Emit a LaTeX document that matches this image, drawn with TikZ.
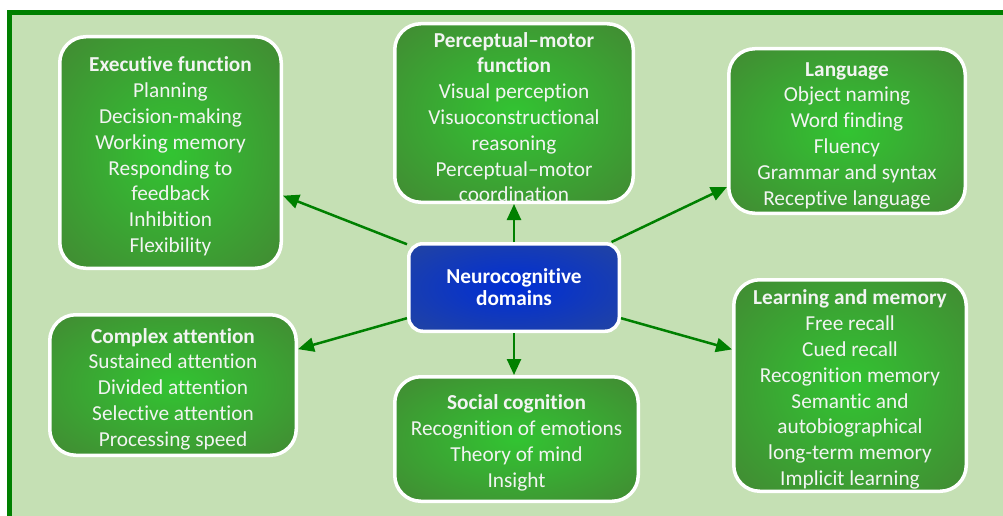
\documentclass[tikz,border=0pt]{standalone}
\usepackage{fontspec}
\setmainfont{Carlito}[Ligatures=NoCommon]
\usetikzlibrary{arrows.meta}

\definecolor{panel}{RGB}{197,224,180}
\definecolor{frame}{RGB}{0,128,0}
\definecolor{glowin}{RGB}{50,196,50}
\definecolor{glowout}{RGB}{70,124,52}
\definecolor{bluein}{RGB}{0,46,214}
\definecolor{blueout}{RGB}{44,74,146}
\definecolor{label}{RGB}{242,244,242}

% soft glow from the centre of each box towards its edges
\pgfdeclareradialshading{greenglow}{\pgfpoint{0bp}{0bp}}{color(0bp)=(glowin); color(44bp)=(glowout); color(72bp)=(glowout)}
\pgfdeclareradialshading{blueglow}{\pgfpoint{0bp}{0bp}}{color(0bp)=(bluein); color(46bp)=(blueout); color(72bp)=(blueout)}

% taller first line, so the block of text sits a little lower in its box
\newcommand\headstrut{\rule{0pt}{23pt}}

\tikzset{
  domainbox/.style={rounded corners=26pt, draw=white, line width=3.5pt,
    shading=greenglow, text=label, align=center, inner sep=0pt,
    font=\fontsize{21.3}{25.8}\selectfont},
  hubbox/.style={domainbox, shading=blueglow, rounded corners=14pt, text=white,
    font=\fontsize{21.3}{22}\selectfont},
  link/.style={draw=frame, line width=2.5pt, -{Triangle[length=16pt,width=14pt]}}
}

\begin{document}
\begin{tikzpicture}[x=1pt,y=-1pt]
\useasboundingbox (0,0) rectangle (1003,516);
\clip (0,0) rectangle (1003,516);

% background panel
\draw[frame, line width=4.5pt, fill=panel] (9.5,12.5) rectangle (1030,540);

% central node
\node[hubbox, minimum width=210.5pt, minimum height=87.5pt] (hub) at (514,287.5)
  {\textbf{Neurocognitive}\\\textbf{domains}};

% domains
\node[domainbox, minimum width=221.5pt, minimum height=231.5pt] (exec) at (170.5,152.5)
  {\headstrut\textbf{Executive function}\\Planning\\Decision-making\\Working memory\\Responding to\\feedback\\Inhibition\\Flexibility};

\node[domainbox, minimum width=238.5pt, minimum height=178.5pt] (percept) at (514,113)
  {\headstrut\textbf{Perceptual–motor}\\\textbf{function}\\Visual perception\\Visuoconstructional\\reasoning\\Perceptual–motor\\coordination};

\node[domainbox, minimum width=236.5pt, minimum height=164.5pt] (lang) at (847,131)
  {\headstrut\textbf{Language}\\Object naming\\Word finding\\Fluency\\Grammar and syntax\\Receptive language};

\node[domainbox, minimum width=246.5pt, minimum height=140.5pt] (attn) at (173,385)
  {\headstrut\textbf{Complex attention}\\Sustained attention\\Divided attention\\Selective attention\\Processing speed};

\node[domainbox, minimum width=243.5pt, minimum height=124.5pt] (social) at (516.5,439)
  {\headstrut\textbf{Social cognition}\\Recognition of emotions\\Theory of mind\\Insight};

\node[domainbox, minimum width=232.5pt, minimum height=211.5pt] (learn) at (850,385.5)
  {\headstrut\textbf{Learning and memory}\\Free recall\\Cued recall\\Recognition memory\\Semantic and\\autobiographical\\long-term memory\\Implicit learning};

% connectors
\draw[link] (hub.158.6) -- (exec.-21.8);
\draw[link] (hub.north) -- (percept.south);
\draw[link] (hub.25.4) -- (lang.-155.6);
\draw[link] (hub.-164) -- (attn.16.1);
\draw[link] (hub.south) -- (hub.south |- social.north);
\draw[link] (hub.-16) -- (learn.163.4);
\end{tikzpicture}
\end{document}
